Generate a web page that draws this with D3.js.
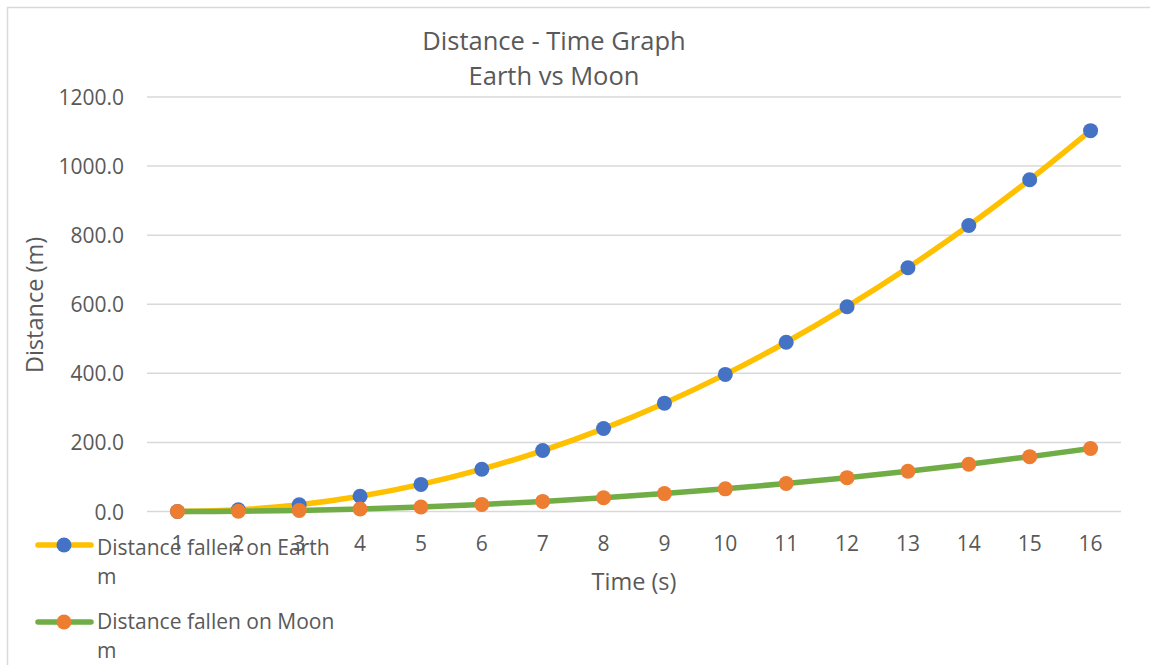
<!DOCTYPE html>
<html>
<head>
<meta charset="utf-8">
<script src="https://cdn.jsdelivr.net/npm/d3@7"></script>
<style>
  html, body { margin: 0; padding: 0; background: #fff; }
  svg { display: block; font-family: "Open Sans", "Noto Sans", sans-serif; }
</style>
</head>
<body>
<svg id="chart" width="1150" height="665"></svg>
<script>
// ---- Data ----
const categories = ["1","2","3","4","5","6","7","8","9","10","11","12","13","14","15","16"];
const earthValues = [0, 4.9, 19.6, 44.1, 78.4, 122.5, 176.4, 240.1, 313.6, 396.9, 490.0, 592.9, 705.6, 828.1, 960.4, 1102.5];
const moonValues = [0, 0.8, 3.2, 7.3, 13.0, 20.3, 29.2, 39.7, 51.8, 65.6, 81.0, 98.0, 116.6, 136.9, 158.8, 182.3];
const yTicks = [0, 200, 400, 600, 800, 1000, 1200];
const seriesNames = ["Distance fallen on Earth", "Distance fallen on Moon"];
const seriesUnits = ["m", "m"];
const titleLines = ["Distance - Time Graph", "Earth vs Moon"];
const xTitle = "Time (s)";
const yTitle = "Distance (m)";

// ---- Styling ----
const textColor = "#595959";
const gridColor = "#D9D9D9";
const lineColors = ["#FFC000", "#70AD47"];
const markerColors = ["#4472C4", "#ED7D31"];

const svg = d3.select("#chart");

// chart area border
svg.append("rect")
  .attr("x", 7.5).attr("y", 7.5)
  .attr("width", 1200).attr("height", 700)
  .attr("fill", "#fff").attr("stroke", gridColor).attr("stroke-width", 1.5);

const plot = { left: 147, right: 1121, top: 97, bottom: 511.5 };

const x = d3.scaleBand().domain(categories).range([plot.left, plot.right]);
const y = d3.scaleLinear().domain([0, 1200]).range([plot.bottom, plot.top]);

// gridlines
svg.append("g").selectAll("line").data(yTicks).join("line")
  .attr("x1", plot.left).attr("x2", plot.right)
  .attr("y1", d => y(d)).attr("y2", d => y(d))
  .attr("stroke", gridColor).attr("stroke-width", 1.5);

// y axis labels
const yAxis = d3.axisLeft(y).tickValues(yTicks).tickFormat(d3.format(".1f")).tickSize(0).tickPadding(0);
const yg = svg.append("g").attr("transform", `translate(${124},0)`).call(yAxis);
yg.select(".domain").remove();
yg.selectAll("text").attr("fill", textColor).style("font-size", "21px")
  .style("font-family", "'Open Sans', sans-serif").attr("dy", "0.36em");

// x axis labels
const xAxis = d3.axisBottom(x).tickSize(0).tickPadding(0);
const xg = svg.append("g").attr("transform", `translate(0,${551})`).call(xAxis);
xg.select(".domain").remove();
xg.selectAll("text").attr("fill", textColor).style("font-size", "21px")
  .style("font-family", "'Open Sans', sans-serif").attr("dy", 0).attr("y", 0);

// title
svg.append("text").attr("x", 554).attr("y", 50).attr("text-anchor", "middle")
  .attr("fill", textColor).style("font-size", "25.5px").text(titleLines[0]);
svg.append("text").attr("x", 554).attr("y", 85).attr("text-anchor", "middle")
  .attr("fill", textColor).style("font-size", "25.5px").text(titleLines[1]);

// axis titles
svg.append("text").attr("x", (plot.left + plot.right) / 2).attr("y", 590)
  .attr("text-anchor", "middle").attr("fill", textColor).style("font-size", "23.5px").text(xTitle);
svg.append("text").attr("transform", `translate(43,305) rotate(-90)`)
  .attr("text-anchor", "middle").attr("fill", textColor).style("font-size", "23.5px").text(yTitle);

// series
const allSeries = [earthValues, moonValues];
const line = d3.line()
  .x((d, i) => x(categories[i]) + x.bandwidth() / 2)
  .y(d => y(d))
  .curve(d3.curveCatmullRom.alpha(0.5));

allSeries.forEach((vals, s) => {
  const g = svg.append("g");
  g.append("path").datum(vals).attr("d", line)
    .attr("fill", "none").attr("stroke", lineColors[s]).attr("stroke-width", 5.5)
    .attr("stroke-linejoin", "round").attr("stroke-linecap", "round");
  g.selectAll("circle").data(vals).join("circle")
    .attr("cx", (d, i) => x(categories[i]) + x.bandwidth() / 2)
    .attr("cy", d => y(d))
    .attr("r", 7.5)
    .attr("fill", markerColors[s]);
});

// legend
const legendItems = [
  { ly: 545, t1: 555, t2: 584 },
  { ly: 622, t1: 629, t2: 658 }
];
legendItems.forEach((it, s) => {
  const g = svg.append("g");
  g.append("line").attr("x1", 38).attr("x2", 91).attr("y1", it.ly).attr("y2", it.ly)
    .attr("stroke", lineColors[s]).attr("stroke-width", 5.5).attr("stroke-linecap", "round");
  g.append("circle").attr("cx", 64).attr("cy", it.ly).attr("r", 7.5).attr("fill", markerColors[s]);
  g.append("text").attr("x", 97).attr("y", it.t1).attr("fill", textColor)
    .style("font-size", "21px").text(seriesNames[s]);
  g.append("text").attr("x", 97).attr("y", it.t2).attr("fill", textColor)
    .style("font-size", "21px").text(seriesUnits[s]);
});
</script>
</body>
</html>
